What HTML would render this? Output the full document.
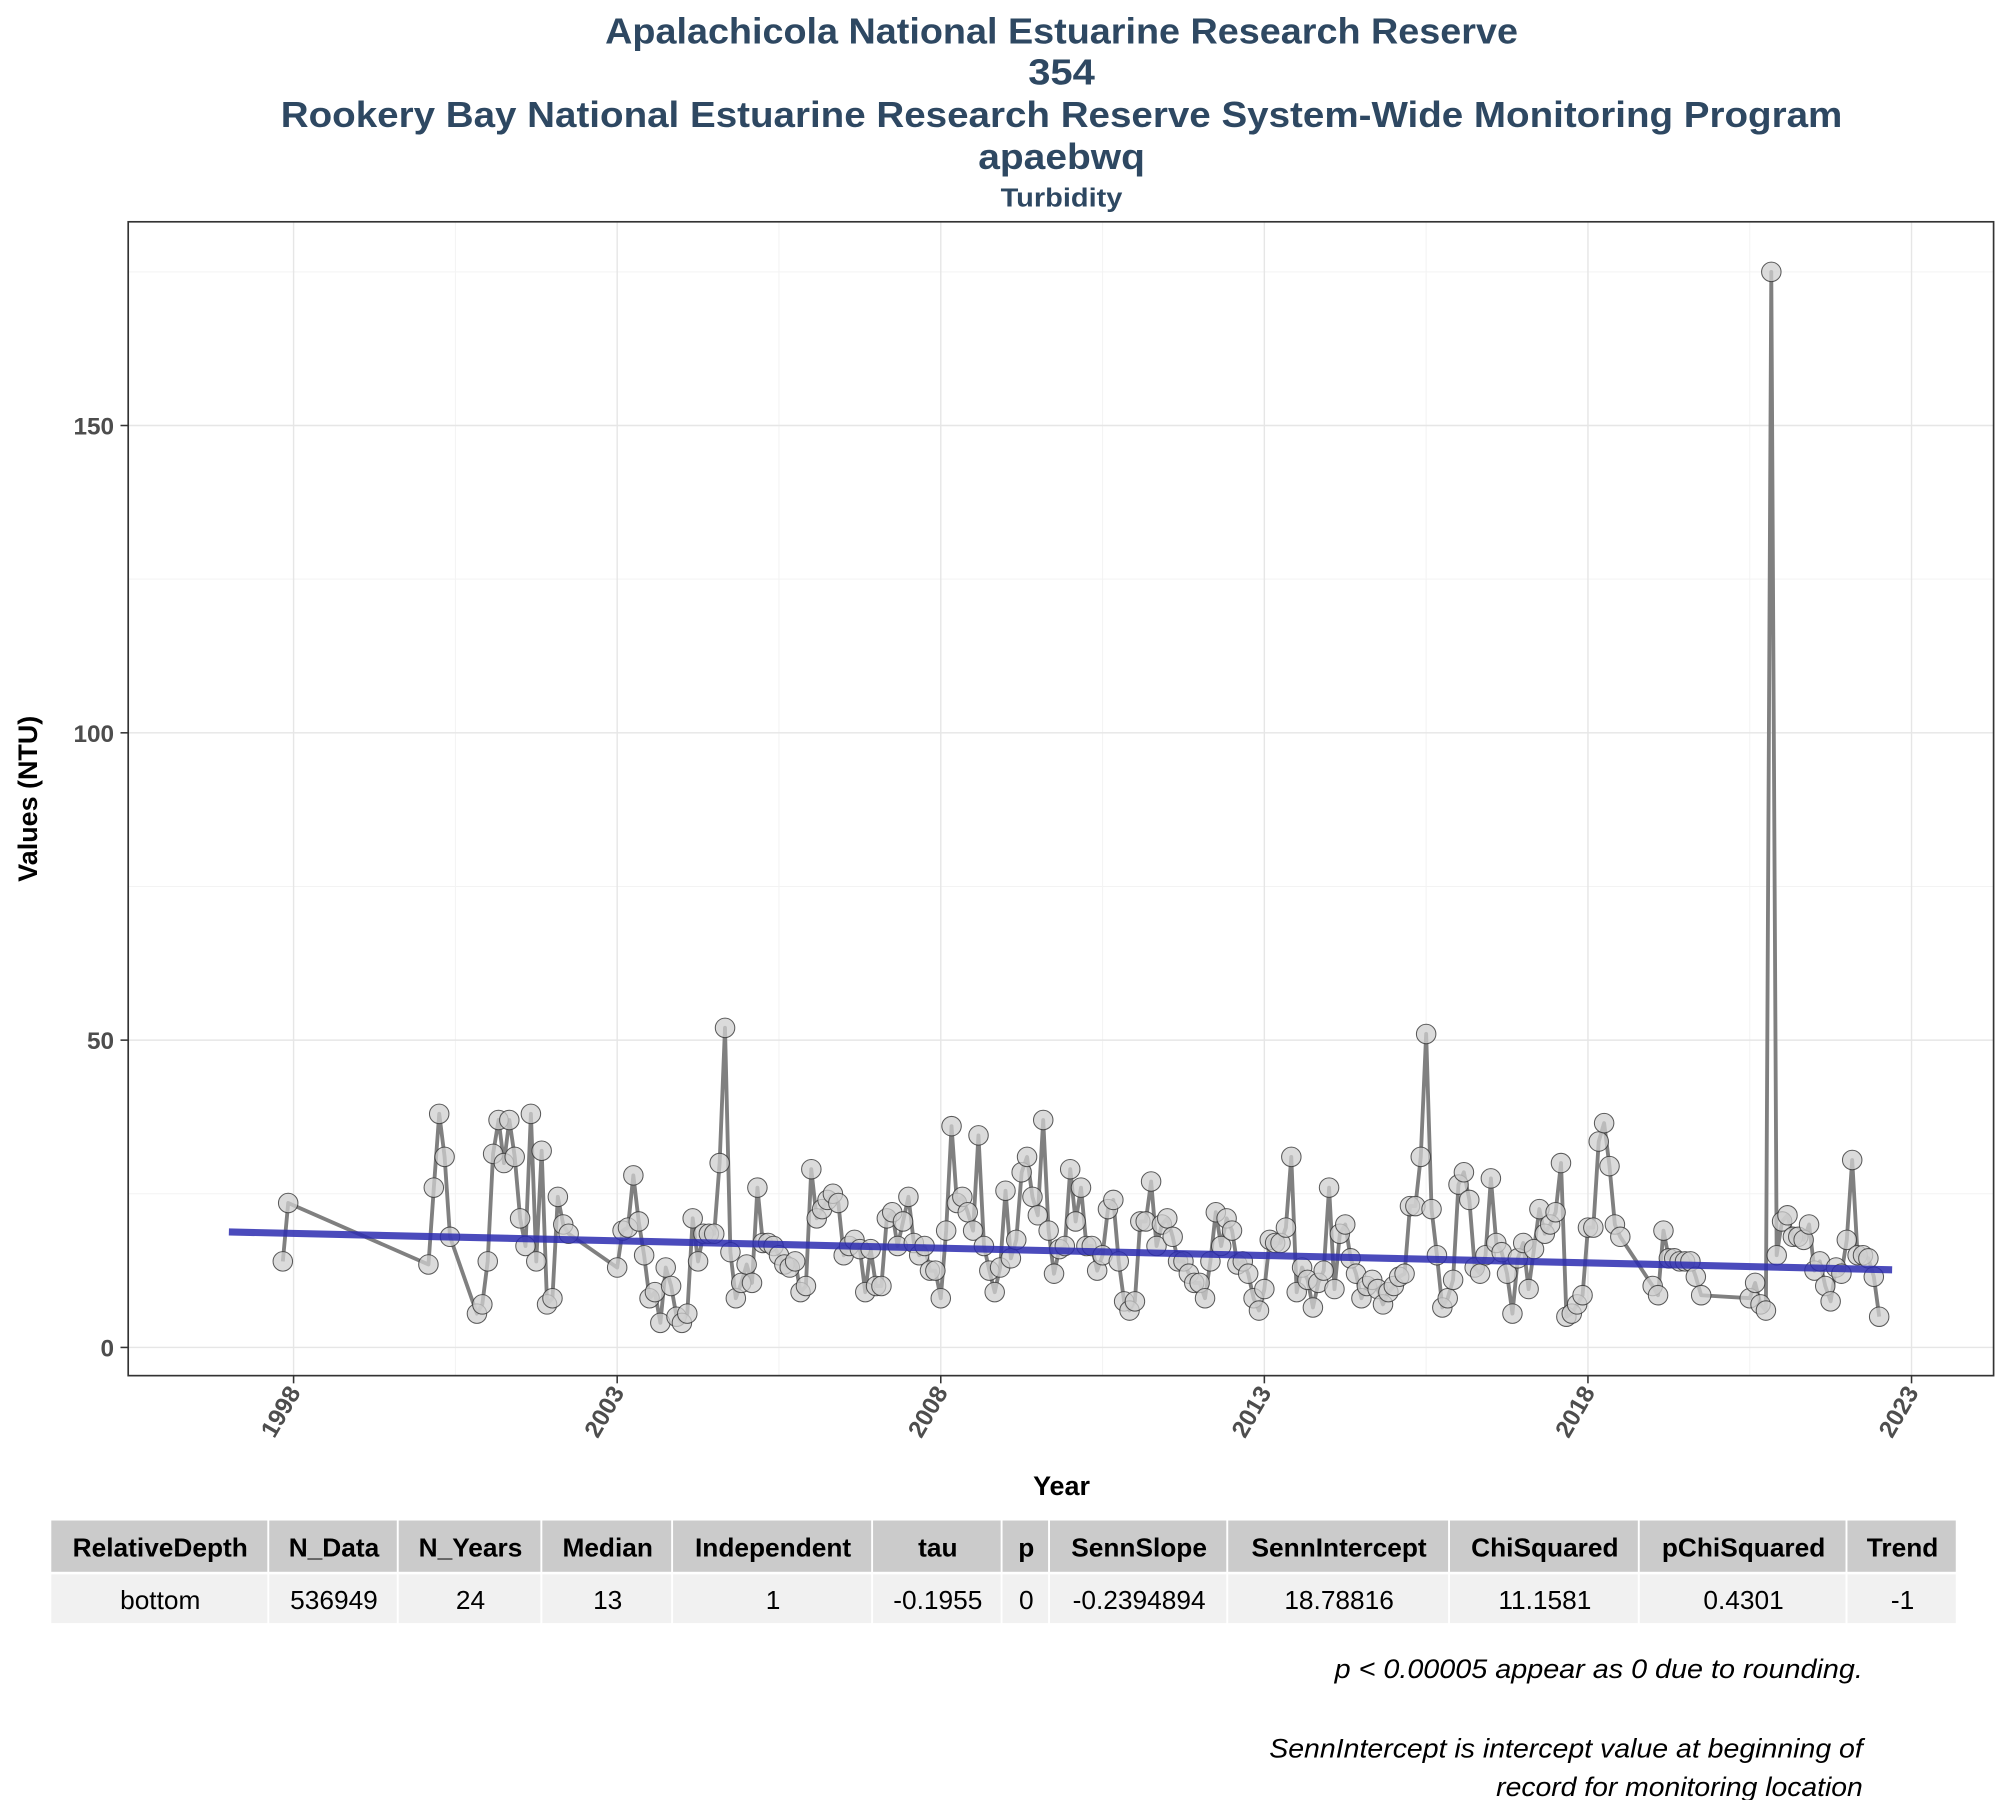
<!DOCTYPE html>
<html><head><meta charset="utf-8">
<style>
html,body{margin:0;padding:0;background:#fff;}
svg{display:block;}
text{font-family:"Liberation Sans",sans-serif;}
</style></head>
<body>
<svg id="chart" width="2000" height="1800" viewBox="0 0 1560 1404" xmlns="http://www.w3.org/2000/svg">
  <g fill="#2e4862" font-weight="bold" text-anchor="middle">
    <text x="828" y="34" font-size="28" textLength="712" lengthAdjust="spacingAndGlyphs">Apalachicola National Estuarine Research Reserve</text>
    <text x="828" y="66" font-size="28" textLength="52" lengthAdjust="spacingAndGlyphs">354</text>
    <text x="828" y="99" font-size="28" textLength="1218" lengthAdjust="spacingAndGlyphs">Rookery Bay National Estuarine Research Reserve System-Wide Monitoring Program</text>
    <text x="828" y="132" font-size="28" textLength="130" lengthAdjust="spacingAndGlyphs">apaebwq</text>
    <text x="828" y="161" font-size="20" textLength="95" lengthAdjust="spacingAndGlyphs">Turbidity</text>
  </g>
  <g id="grid"></g>
  <g id="marks"></g>
  <rect x="100" y="173" width="1455" height="900" fill="none" stroke="#333" stroke-width="1.3"/>
  <g id="axes"></g>
  <text x="0" y="0" transform="translate(29,623) rotate(-90)" text-anchor="middle" font-size="21" font-weight="bold" fill="#000">Values (NTU)</text>
  <text x="828" y="1166" text-anchor="middle" font-size="21" font-weight="bold" fill="#000">Year</text>
  <g id="table"></g>
  <g font-size="21" font-style="italic" fill="#000" text-anchor="end">
    <text x="1453" y="1309" textLength="412" lengthAdjust="spacingAndGlyphs">p &lt; 0.00005 appear as 0 due to rounding.</text>
    <text x="1453" y="1371" textLength="463" lengthAdjust="spacingAndGlyphs">SennIntercept is intercept value at beginning of</text>
    <text x="1453" y="1401" textLength="286" lengthAdjust="spacingAndGlyphs">record for monitoring location</text>
  </g>
</svg>
<script>
// monthly series, runs of consecutive months
const runStarts = ["1997-11","2000-02","2000-11","2003-01","2019-01","2020-07"];
const run1 = [14,23.5];
const run2 = [13.5,26,38,31,18];
const run3 = [5.5,7,14,31.5,37,30,37,31,21,16.5,38,14,32,7,8,24.5,20,18.5];
const run4 = [13,19,19.5,28,20.5,15,8,9,4,13,10,5,4,5.5,21,14,18.5,18.5,18.5,30,52,15.5,8,10.5,13.5,10.5,26,17,17,16.5,15,13.5,13,14,9,10,29,21,22.5,24,25,23.5,15,16.5,17.5,16,9,16,10,10,21,22,16.5,20.5,24.5,17,15,16.5,12.5,12.5,8,19,36,23.5,24.5,22,19,34.5,16.5,12.5,9,13,25.5,14.5,17.5,28.5,31,24.5,21.5,37,19,12,16,16.5,29,20.5,26,16.5,16.5,12.5,15,22.5,24,14,7.5,6,7.5,20.5,20.5,27,16.5,20,21,18,14,14,12,10.5,10.5,8,14,22,16.5,21,19,13.5,14,12,8,6,9.5,17.5,17,17,19.5,31,9,13,11,6.5,10.5,12.5,26,9.5,18.5,20,14.5,12,8,10,11,9.5,7,9,10,11.5,12,23,23,31,51,22.5,15,6.5,8,11,26.5,28.5,24,13,12,15,27.5,17,15.5,12,5.5,14.5,17,9.5,16,22.5,18.5,20,22,30,5,5.5,7,8.5,19.5,19.5,33.5,36.5,29.5,20,18];
const run5 = [10,8.5,19,14.5,14.5,14,14,14,11.5,8.5];
const run6 = [8,10.5,7,6,175,15,20.5,21.5,18,18,17.5,20,12.5,14,10,7.5,13,12,17.5,30.5,15,15,14.5,11.5,5];
const trendYears = [1997.0, 2022.7];
const sennSlope = -0.2394894;
const sennIntercept = 18.78816;
const yTicks = [0,50,100,150];
const yMinor = [25,75,125,175];
const xTicks = [1998,2003,2008,2013,2018,2023];
const xMinor = [2000.5,2005.5,2010.5,2015.5,2020.5];
const tableHeaders = ["RelativeDepth","N_Data","N_Years","Median","Independent","tau","p","SennSlope","SennIntercept","ChiSquared","pChiSquared","Trend"];
const tableValues = ["bottom","536949","24","13","1","-0.1955","0","-0.2394894","18.78816","11.1581","0.4301","-1"];

const NS="http://www.w3.org/2000/svg";
const X = yr => 229 + (yr-1998)*50.48;
const Y = v => 1051 - v*4.794;
function mk(tag, attrs, parent){const e=document.createElementNS(NS,tag);for(const k in attrs)e.setAttribute(k,attrs[k]);parent.appendChild(e);return e;}

const grid=document.getElementById('grid');
yMinor.forEach(v=>{const l=mk('line',{x1:100,x2:1555,y1:Y(v),y2:Y(v),stroke:'#f3f3f3','stroke-width':0.8},grid);

});
xMinor.forEach(v=>{const l=mk('line',{x1:X(v),x2:X(v),y1:173,y2:1073,stroke:'#f3f3f3','stroke-width':0.8},grid);

});
yTicks.forEach(v=>{const l=mk('line',{x1:100,x2:1555,y1:Y(v),y2:Y(v),stroke:'#e6e6e6','stroke-width':1.1},grid);

});
xTicks.forEach(v=>{const l=mk('line',{x1:X(v),x2:X(v),y1:173,y2:1073,stroke:'#e6e6e6','stroke-width':1.1},grid);

});

const runs=[run1,run2,run3,run4,run5,run6];
const pts=[];
runs.forEach((r,i)=>{const [ys,ms]=runStarts[i].split('-').map(Number);
  r.forEach((v,j)=>{const mi=(ms-1)+j;const yr=ys+Math.floor(mi/12)+(mi%12)/12;pts.push([yr,v]);});});
const marks=document.getElementById('marks');
const line=mk('polyline',{points:pts.map(p=>X(p[0]).toFixed(1)+','+Y(p[1]).toFixed(1)).join(' '),fill:'none',stroke:'#808080','stroke-width':3,'stroke-linejoin':'round'},marks);


pts.forEach(p=>{const c=mk('circle',{cx:X(p[0]),cy:Y(p[1]),r:7.6,fill:'#cfcfcf','fill-opacity':0.75,stroke:'#333','stroke-opacity':0.8,'stroke-width':0.8},marks);

});
const t=mk('line',{x1:X(trendYears[0]),y1:Y(sennIntercept),x2:X(trendYears[1]),y2:Y(sennIntercept+sennSlope*(trendYears[1]-trendYears[0])),stroke:'#2b2bb0','stroke-opacity':0.85,'stroke-width':5.5},marks);



const axes=document.getElementById('axes');
yTicks.forEach(v=>{const l=mk('line',{x1:94,x2:100,y1:Y(v),y2:Y(v),stroke:'#333','stroke-width':1.2},axes);


const tx=mk('text',{x:89,y:Y(v)+7,'text-anchor':'end','font-size':19,'font-weight':'bold',fill:'#4d4d4d'},axes);tx.textContent=v;

});
xTicks.forEach(v=>{const l=mk('line',{x1:X(v),x2:X(v),y1:1073,y2:1079,stroke:'#333','stroke-width':1.2},axes);


const tx=mk('text',{x:0,y:0,transform:`translate(${X(v)+6},${1086}) rotate(-60)`,'text-anchor':'end','font-size':19,'font-weight':'bold',fill:'#4d4d4d'},axes);tx.textContent=v;

});

const tb=document.getElementById('table');
const edges=[40,210,311,423,525,681,782,819,958,1131,1279,1441,1527];
tableHeaders.forEach((h,i)=>{const x0=edges[i],x1=edges[i+1];
const r=mk('rect',{x:x0,y:1186,width:x1-x0-1.5,height:40,fill:'#cbcbcb'},tb);


const tx=mk('text',{x:(x0+x1)/2,y:1214,'text-anchor':'middle','font-size':20.5,'font-weight':'bold',fill:'#000'},tb);tx.textContent=h;


const r2=mk('rect',{x:x0,y:1228,width:x1-x0-1.5,height:38,fill:'#f1f1f1'},tb);


const t2=mk('text',{x:(x0+x1)/2,y:1255,'text-anchor':'middle','font-size':20.5,fill:'#000'},tb);t2.textContent=tableValues[i];

});
</script>
</body></html>
